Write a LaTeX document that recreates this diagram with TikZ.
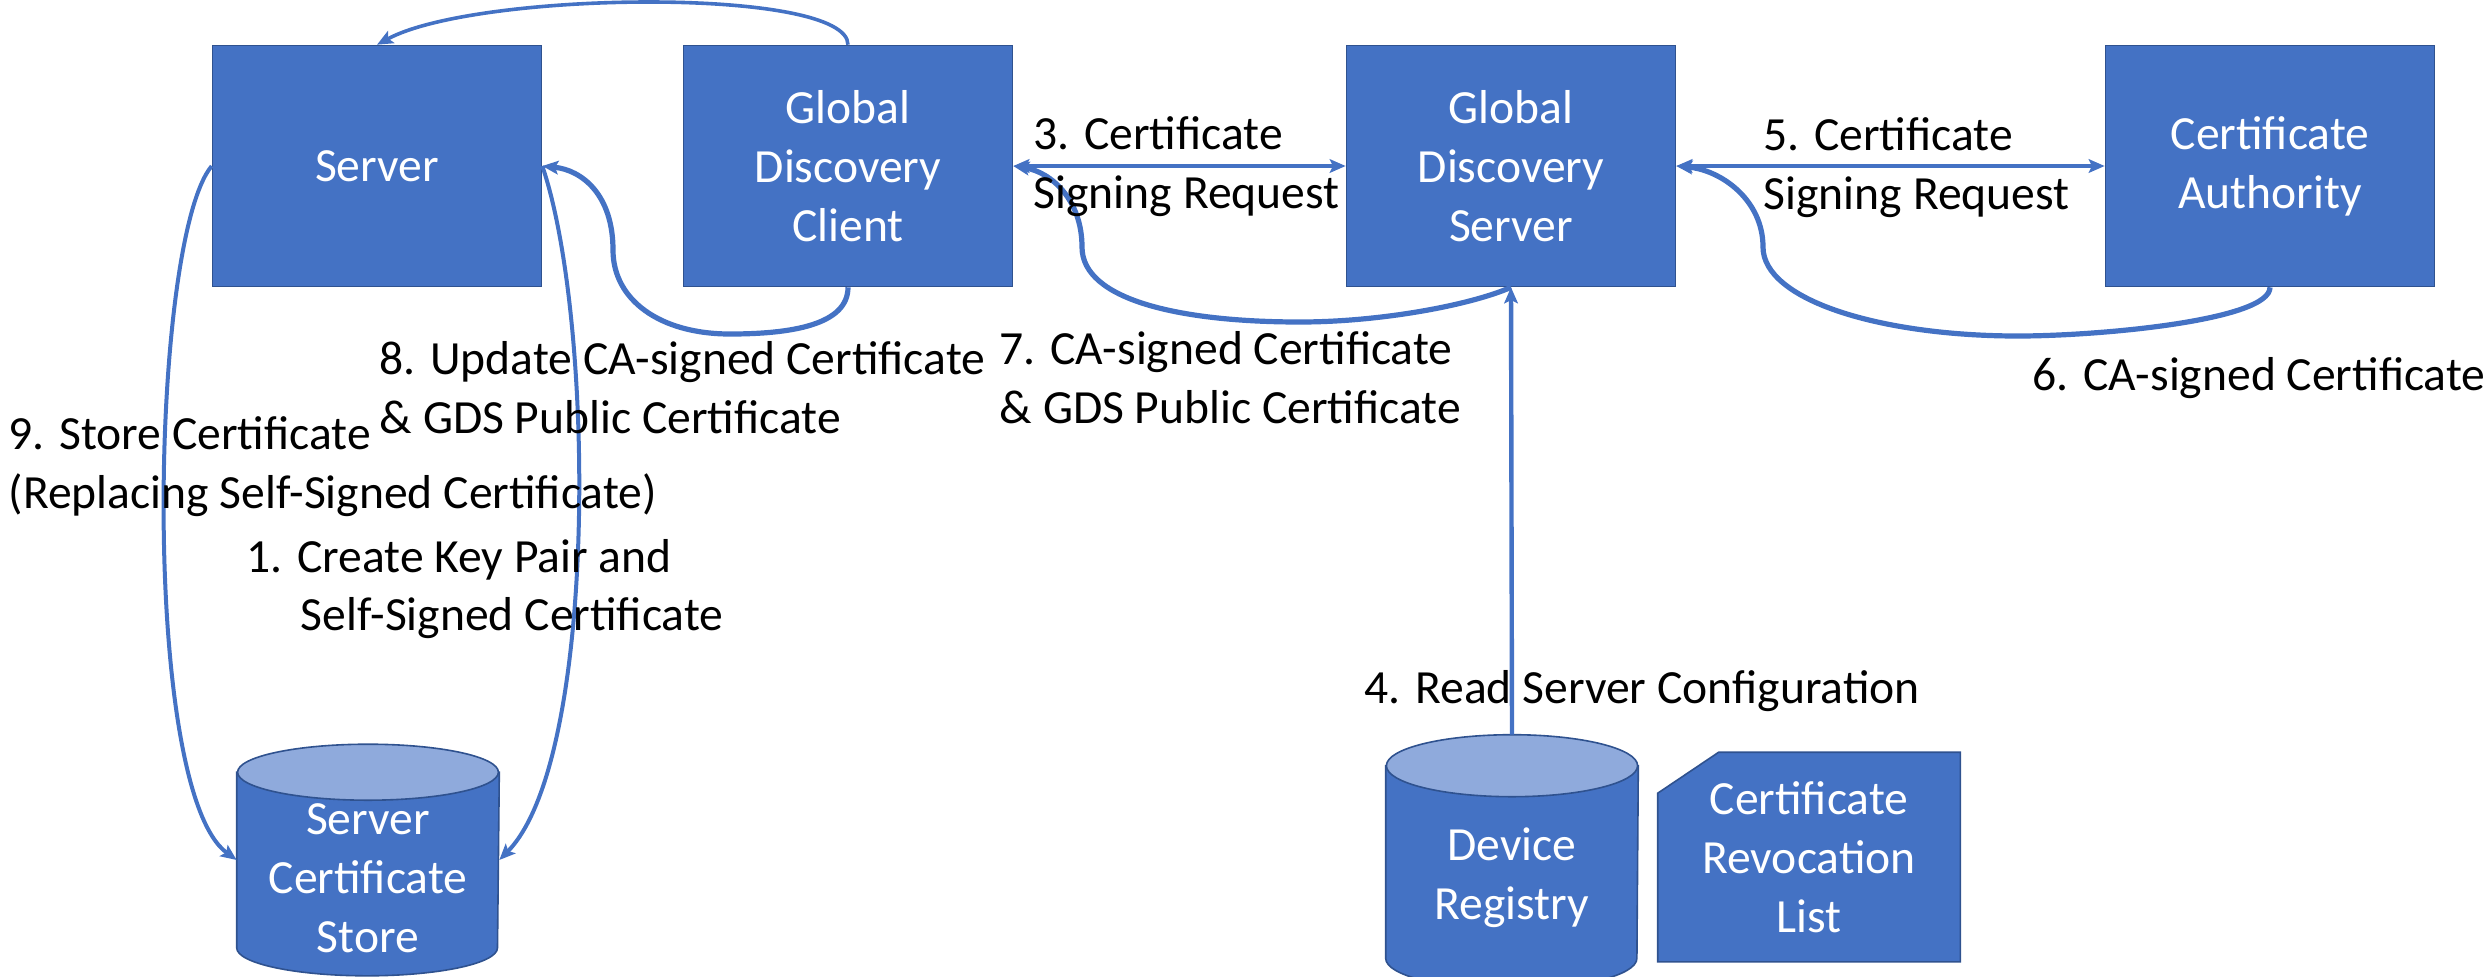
\documentclass[tikz,border=0pt]{standalone}
\usepackage{fontspec}
\setmainfont{Carlito}
\usetikzlibrary{arrows.meta,backgrounds}

\definecolor{boxblue}{HTML}{4472C4}
\definecolor{edgeblue}{HTML}{2F528F}
\definecolor{topblue}{HTML}{8FAADC}

\begin{document}
\begin{tikzpicture}[x=0.25pt, y=-0.25pt, >={Stealth[length=4pt, width=3.4pt, inset=0.8pt]},
    every node/.style={font=\fontsize{11.9}{14.7}\selectfont},
    block/.style={draw=edgeblue, line width=0.4pt, fill=boxblue, text=white,
        minimum width=82.25pt, minimum height=60.25pt, align=center},
    drum/.style={rectangle, inner sep=0pt},
    drumtext/.style={text=white, align=center},
    crl/.style={rectangle, text=white, align=center,
        minimum width=75.25pt, minimum height=52pt},
    skin/.style={draw=edgeblue, line width=0.4pt, fill=boxblue},
    lbl/.style={anchor=west, align=left, inner sep=0pt},
    flow/.style={->, draw=boxblue, line width=1.1pt},
]
    \useasboundingbox (0,0) rectangle (2486,976);

    % boxes along the top
    \node[block] (srv) at (377,166) {Server};
    \node[block] (gdc) at (848,166) {Global\\Discovery\\Client};
    \node[block] (gds) at (1511,166) {Global\\Discovery\\Server};
    \node[block] (ca) at (2270,166) {Certificate\\Authority};

    % stores
    \node[drum, minimum width=65.25pt, minimum height=57.5pt,
        label={[drumtext, yshift=-4.5pt]center:Server\\Certificate\\Store}] (cstore) at (368,860) {};
    \node[drum, minimum width=62.75pt, minimum height=63.25pt,
        label={[drumtext, yshift=-4pt]center:Device\\Registry}] (dev) at (1512,862) {};
    \node[crl] (rev) at (1809,857) {Certificate\\Revocation\\List};

    \begin{scope}[on background layer]
        \foreach \n/\w/\r in {cstore/32.6pt/7pt, dev/31.4pt/7.75pt} {
            \filldraw[skin] ([yshift=-\r]\n.north west) -- ([yshift=\r]\n.south west)
                arc[start angle=180, end angle=360, x radius=\w, y radius=\r]
                -- ([yshift=-\r]\n.north east) -- cycle;
            \filldraw[skin, fill=topblue] ([yshift=-\r]\n.north) ellipse[x radius=\w, y radius=\r];
        }
        \filldraw[skin] ([xshift=15.25pt]rev.north west) -- (rev.north east) -- (rev.south east)
            -- (rev.south west) -- ([yshift=-10.25pt]rev.north west) -- cycle;
    \end{scope}

    % requests
    \draw[flow, <->, line width=0.8pt] (gdc.east) -- (gds.west);
    \draw[flow, <->, line width=0.8pt] (gds.east) -- (ca.west);
    \draw[flow] (dev.north) -- (gds.south);

    % returned certificates
    \draw[flow, line width=1.3pt] (ca.south) .. controls +(0,33) and +(82,0) .. (2018,336)
        .. controls +(-138,0) and +(0,53) .. (1763,247)
        .. controls +(0,-47) and +(45,4) .. (gds.east);
    \draw[flow, line width=1.3pt] (gds.south) .. controls +(-41,18) and +(80,0) .. (1300,322)
        .. controls +(-120,0) and +(0,53) .. (1082,247)
        .. controls +(0,-47) and +(38,6) .. (gdc.east);
    \draw[flow, line width=1.3pt] (gdc.south) .. controls +(0,38) and +(60,0) .. (730,334)
        .. controls +(-70,0) and +(0,50) .. (613,250)
        .. controls +(0,-55) and +(40,4) .. (srv.east);
    \draw[flow, line width=0.9pt] (gdc.north) .. controls +(0,-58) and +(100,-54) .. (srv.north);

    % server and its certificate store
    \draw[flow, line width=1pt] (srv.east) .. controls (595,320) and (598,760) .. (cstore.east);
    \draw[flow, line width=1pt] (srv.west) .. controls (150,240) and (140,790) .. (cstore.west);

    % step labels
    \node[lbl] at (1033,167) {3. Certificate\\Signing Request};
    \node[lbl] at (1763,168) {5. Certificate\\Signing Request};
    \node[lbl] at (1364,691) {4. Read Server Configuration};
    \node[lbl] at (2032,378) {6. CA-signed Certificate};
    \node[lbl] at (999,378) {7. CA-signed Certificate\\\& GDS Public Certificate};
    \node[lbl] at (379,388) {8. Update CA-signed Certificate\\\& GDS Public Certificate};
    \node[lbl] at (8,467) {9. Store Certificate\\(Replacing Self-Signed Certificate)};
    \node[lbl] at (246,589) {1. Create Key Pair and\\\hspace*{13.5pt}Self-Signed Certificate};
\end{tikzpicture}
\end{document}
